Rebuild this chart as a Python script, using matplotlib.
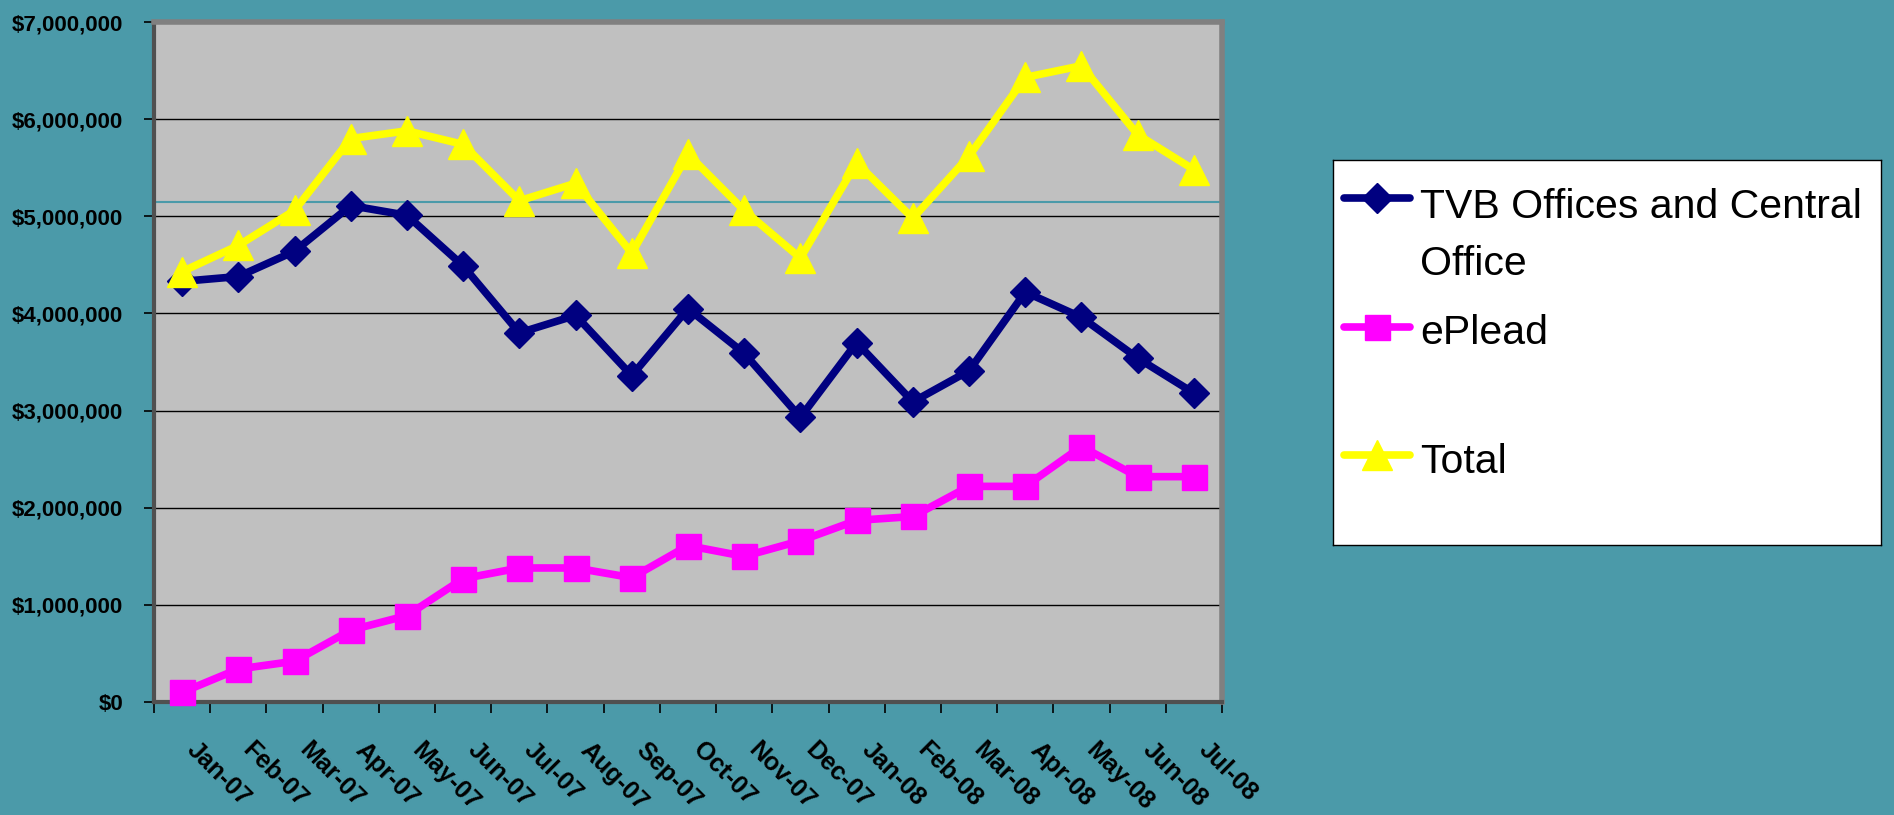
import matplotlib
matplotlib.use('Agg')
import matplotlib.pyplot as plt
from matplotlib import font_manager
from matplotlib.ticker import FuncFormatter
import numpy as np

# Monthly data (dollars)
months = ['Jan-07', 'Feb-07', 'Mar-07', 'Apr-07', 'May-07', 'Jun-07', 'Jul-07',
          'Aug-07', 'Sep-07', 'Oct-07', 'Nov-07', 'Dec-07', 'Jan-08', 'Feb-08',
          'Mar-08', 'Apr-08', 'May-08', 'Jun-08', 'Jul-08']
tvb = [4330000, 4380000, 4640000, 5110000, 5010000, 4490000, 3800000,
       3980000, 3360000, 4050000, 3590000, 2930000, 3700000, 3090000,
       3410000, 4220000, 3960000, 3540000, 3180000]
eplead = [100000, 340000, 420000, 740000, 890000, 1270000, 1380000,
          1380000, 1280000, 1610000, 1500000, 1660000, 1870000, 1910000,
          2220000, 2220000, 2630000, 2320000, 2320000]
total = [4430000, 4700000, 5060000, 5800000, 5880000, 5740000, 5160000,
         5340000, 4620000, 5640000, 5060000, 4570000, 5550000, 4980000,
         5620000, 6430000, 6550000, 5840000, 5480000]
labels = ['TVB Offices and Central\nOffice', 'ePlead', 'Total']

# stray slide line that crosses the plot area
slide_line = 5150000

# use a narrow font if one is there, otherwise Arial metrics
names = {f.name for f in font_manager.fontManager.ttflist}
narrow = 'Liberation Sans Narrow' in names
font = 'Liberation Sans Narrow' if narrow else 'Liberation Sans'
plt.rcParams['font.family'] = [font, 'DejaVu Sans']
tick_size = 18 if narrow else 16
legend_size = 34 if narrow else 29.5

bg = '#4b9aa9'
fig = plt.figure(figsize=(18.94, 8.15), dpi=100)
fig.patch.set_facecolor(bg)

ax = fig.add_axes([0.0813, 0.1386, 0.5639, 0.8344])
ax.set_facecolor('#c0c0c0')

x = np.arange(len(months))
styles = [('#000080', 'D', 15), ('#ff00ff', 's', 18), ('#ffff00', '^', 21)]
for series, (col, mk, ms) in zip([tvb, eplead, total], styles):
    ax.plot(x, series, color=col, lw=5.5, marker=mk, ms=ms,
            markeredgecolor=col, zorder=3, clip_on=False)

ax.axhline(slide_line, color=bg, lw=1.5, zorder=1)

ax.set_xlim(-0.5, len(months) - 0.5)
ax.set_ylim(0, 7000000)
ax.set_yticks(np.arange(0, 7000001, 1000000))
ax.yaxis.set_major_formatter(FuncFormatter(lambda v, p: f'${v:,.0f}'))
ax.grid(axis='y', color='black', lw=1, zorder=0)
ax.set_axisbelow(True)

ax.set_xticks(x)
ax.set_xticklabels(months, rotation=-45, ha='left', va='bottom',
                   rotation_mode='anchor')
ax.set_xticks(np.arange(-0.5, len(months)), minor=True)
ax.tick_params(axis='x', which='major', length=0, pad=38)
ax.tick_params(axis='x', which='minor', length=8, width=1.2, color='black')
ax.tick_params(axis='y', length=7, width=1.2, color='black', pad=15)
for lab in ax.get_xticklabels():
    lab.set_fontsize(18)
    lab.set_fontweight('bold')
for lab in ax.get_yticklabels():
    lab.set_fontsize(tick_size)
    lab.set_fontweight('bold')

for side in ['top', 'right']:
    ax.spines[side].set_color('#808080')
    ax.spines[side].set_linewidth(4)
for side in ['left', 'bottom']:
    ax.spines[side].set_color('#505050')
    ax.spines[side].set_linewidth(3)

# Legend drawn in its own box
lax = fig.add_axes([0.7038, 0.3313, 0.2893, 0.4724])
lax.set_xlim(0, 1)
lax.set_ylim(0, 1)
lax.set_xticks([])
lax.set_yticks([])
lax.set_facecolor('white')
for s in lax.spines.values():
    s.set_color('black')
    s.set_linewidth(1)

# baseline of the last line of each label
handle_y = [0.901, 0.566, 0.234]
text_y = [0.700, 0.521, 0.188]
for lab, (col, mk, ms), hy, ty in zip(labels, styles, handle_y, text_y):
    lax.plot([0.02, 0.08, 0.1405], [hy, hy, hy], color=col, lw=5.5,
             marker=mk, ms=ms, markevery=[1], markeredgecolor=col,
             solid_capstyle='round')
    lax.text(0.159, ty, lab, fontsize=legend_size, va='baseline', ha='left',
             linespacing=1.65)

fig.savefig('out.png', dpi=100, facecolor=fig.get_facecolor())
